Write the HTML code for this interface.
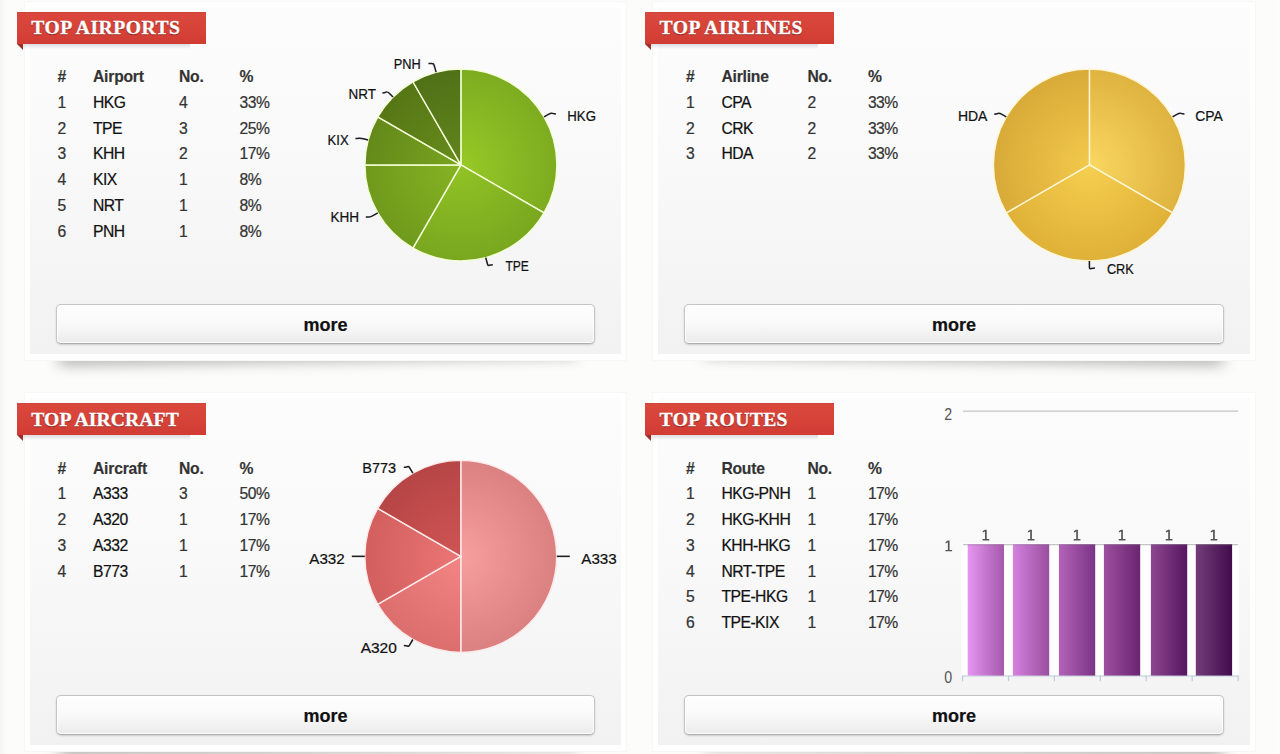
<!DOCTYPE html>
<html><head><meta charset="utf-8"><title>Top stats</title>
<style>
html,body{margin:0;padding:0}
body{width:1280px;height:754px;overflow:hidden;position:relative;background:#fcfcfb;font-family:"Liberation Sans",sans-serif;}
.strip{position:absolute;top:0;width:5px;height:754px}
.strip.a{left:0;background:linear-gradient(90deg,#f4f4f2,#fafaf9)}
.strip.b{right:0;background:#fdfdfc}
.panel{position:absolute;box-sizing:border-box;width:603.2px;height:360px;border:1px solid #f7f7f7;background:#fff}
.panel .inner{position:absolute;left:5px;top:5px;right:5px;bottom:6px;background:linear-gradient(180deg,#fcfcfc 0%,#fafafa 35%,#f2f2f2 100%)}
.lift{position:absolute;z-index:-1;width:518px;height:10px;box-shadow:0 12px 15px rgba(0,0,0,.44)}
.lift.l{left:59px;transform-origin:0 100%;transform:rotate(-.93deg)}
.lift.r{left:705px;transform-origin:100% 100%;transform:rotate(.93deg)}
.ribbon{position:absolute;width:189.2px;height:32.3px;background:linear-gradient(180deg,#c9443b 0,#da473d 1.5px,#d64238 60%,#d03b33 100%)}
.ribbon span{position:absolute;left:14.3px;top:4.6px;white-space:nowrap;font-family:"Liberation Serif",serif;font-weight:bold;font-size:19.6px;line-height:24px;color:#fff;letter-spacing:.5px;-webkit-text-stroke:.35px #fff;text-shadow:0 1px 1px rgba(100,15,10,.85)}
.fold{position:absolute;width:0;height:0;border-style:solid;border-width:0 6.5px 6px 0;border-color:transparent #9f2e28 transparent transparent}
.rshadow{position:absolute;width:167px;height:5px;background:linear-gradient(180deg,rgba(20,30,60,.14),rgba(20,30,60,0))}
.tbl{position:absolute;width:280px;font-size:15.7px;letter-spacing:-.5px;color:#333;-webkit-text-stroke:.22px #333}
.tr{position:relative;height:25.75px;line-height:26px}
.tr i{position:absolute;top:0;font-style:normal;white-space:nowrap}
.th{font-weight:bold;color:#333;letter-spacing:-.22px;-webkit-text-stroke:.15px #333}
.c1{left:33.5px}.c2{left:69px;color:#111;-webkit-text-stroke-color:#111}.th .c2{color:#333;-webkit-text-stroke-color:#333}.c3{left:155px}.c4{left:215.5px}
.btn{position:absolute;box-sizing:border-box;width:539.6px;height:40px;border:1px solid #c4c4c4;border-bottom-color:#adadad;border-radius:5px;background:linear-gradient(180deg,#fefefe 0%,#f9f9f9 50%,#ebebeb 100%);box-shadow:0 1px 2px rgba(0,0,0,.16),inset 0 0 0 1px rgba(255,255,255,.9);text-align:center;font-weight:bold;font-size:18px;line-height:40.6px;color:#111;-webkit-text-stroke:.2px #111}
svg{position:absolute;left:0;top:0}
.pl text{font-family:"Liberation Sans",sans-serif;font-size:14.4px;fill:#111;stroke:#111;stroke-width:.22px}
text.ax{font-family:"Liberation Sans",sans-serif;font-size:15.8px;fill:#555}
</style></head><body>
<div class="strip a"></div><div class="strip b"></div>
<div class="panel" style="left:24px;top:1px"><div class="inner"></div></div>
<div class="rshadow" style="left:23px;top:44px"></div>
<div class="fold" style="left:17px;top:43.8px"></div>
<div class="ribbon" style="left:16.9px;top:11.7px"><span style="letter-spacing:0.5px">TOP AIRPORTS</span></div>
<div class="tbl" style="left:24px;top:64.2px"><div class="tr th"><i class="c1">#</i><i class="c2">Airport</i><i class="c3">No.</i><i class="c4">%</i></div><div class="tr"><i class="c1">1</i><i class="c2">HKG</i><i class="c3">4</i><i class="c4">33%</i></div><div class="tr"><i class="c1">2</i><i class="c2">TPE</i><i class="c3">3</i><i class="c4">25%</i></div><div class="tr"><i class="c1">3</i><i class="c2">KHH</i><i class="c3">2</i><i class="c4">17%</i></div><div class="tr"><i class="c1">4</i><i class="c2">KIX</i><i class="c3">1</i><i class="c4">8%</i></div><div class="tr"><i class="c1">5</i><i class="c2">NRT</i><i class="c3">1</i><i class="c4">8%</i></div><div class="tr"><i class="c1">6</i><i class="c2">PNH</i><i class="c3">1</i><i class="c4">8%</i></div></div>
<div class="btn" style="left:55.75px;top:304.25px">more</div>
<div class="panel" style="left:652.4px;top:1px"><div class="inner"></div></div>
<div class="rshadow" style="left:651.4px;top:44px"></div>
<div class="fold" style="left:645.4px;top:43.8px"></div>
<div class="ribbon" style="left:645.3px;top:11.7px"><span style="letter-spacing:0.5px">TOP AIRLINES</span></div>
<div class="tbl" style="left:652.4px;top:64.2px"><div class="tr th"><i class="c1">#</i><i class="c2">Airline</i><i class="c3">No.</i><i class="c4">%</i></div><div class="tr"><i class="c1">1</i><i class="c2">CPA</i><i class="c3">2</i><i class="c4">33%</i></div><div class="tr"><i class="c1">2</i><i class="c2">CRK</i><i class="c3">2</i><i class="c4">33%</i></div><div class="tr"><i class="c1">3</i><i class="c2">HDA</i><i class="c3">2</i><i class="c4">33%</i></div></div>
<div class="btn" style="left:684.15px;top:304.25px">more</div>
<div class="panel" style="left:24px;top:392.3px"><div class="inner"></div></div>
<div class="rshadow" style="left:23px;top:435.3px"></div>
<div class="fold" style="left:17px;top:435.1px"></div>
<div class="ribbon" style="left:16.9px;top:403px"><span style="letter-spacing:0.14px">TOP AIRCRAFT</span></div>
<div class="tbl" style="left:24px;top:455.5px"><div class="tr th"><i class="c1">#</i><i class="c2">Aircraft</i><i class="c3">No.</i><i class="c4">%</i></div><div class="tr"><i class="c1">1</i><i class="c2">A333</i><i class="c3">3</i><i class="c4">50%</i></div><div class="tr"><i class="c1">2</i><i class="c2">A320</i><i class="c3">1</i><i class="c4">17%</i></div><div class="tr"><i class="c1">3</i><i class="c2">A332</i><i class="c3">1</i><i class="c4">17%</i></div><div class="tr"><i class="c1">4</i><i class="c2">B773</i><i class="c3">1</i><i class="c4">17%</i></div></div>
<div class="btn" style="left:55.75px;top:695.25px">more</div>
<div class="panel" style="left:652.4px;top:392.3px"><div class="inner"></div></div>
<div class="rshadow" style="left:651.4px;top:435.3px"></div>
<div class="fold" style="left:645.4px;top:435.1px"></div>
<div class="ribbon" style="left:645.3px;top:403px"><span style="letter-spacing:0.4px">TOP ROUTES</span></div>
<div class="tbl" style="left:652.4px;top:455.5px"><div class="tr th"><i class="c1">#</i><i class="c2">Route</i><i class="c3">No.</i><i class="c4">%</i></div><div class="tr"><i class="c1">1</i><i class="c2">HKG-PNH</i><i class="c3">1</i><i class="c4">17%</i></div><div class="tr"><i class="c1">2</i><i class="c2">HKG-KHH</i><i class="c3">1</i><i class="c4">17%</i></div><div class="tr"><i class="c1">3</i><i class="c2">KHH-HKG</i><i class="c3">1</i><i class="c4">17%</i></div><div class="tr"><i class="c1">4</i><i class="c2">NRT-TPE</i><i class="c3">1</i><i class="c4">17%</i></div><div class="tr"><i class="c1">5</i><i class="c2">TPE-HKG</i><i class="c3">1</i><i class="c4">17%</i></div><div class="tr"><i class="c1">6</i><i class="c2">TPE-KIX</i><i class="c3">1</i><i class="c4">17%</i></div></div>
<div class="btn" style="left:684.15px;top:695.25px">more</div>
<div class="lift l" style="top:341.3px"></div><div class="lift r" style="top:341.3px"></div>
<div class="lift l" style="top:732.6px"></div><div class="lift r" style="top:732.6px"></div>
<svg width="1280" height="754" viewBox="0 0 1280 754"><defs><radialGradient id="p1_g0" gradientUnits="userSpaceOnUse" cx="460.9" cy="164.9" r="97.92"><stop offset="0" stop-color="#97c926"/><stop offset="1" stop-color="#7cab20"/></radialGradient><radialGradient id="p1_g1" gradientUnits="userSpaceOnUse" cx="460.9" cy="164.9" r="97.92"><stop offset="0" stop-color="#92c325"/><stop offset="1" stop-color="#78a61f"/></radialGradient><radialGradient id="p1_g2" gradientUnits="userSpaceOnUse" cx="460.9" cy="164.9" r="97.92"><stop offset="0" stop-color="#86b422"/><stop offset="1" stop-color="#6e991c"/></radialGradient><radialGradient id="p1_g3" gradientUnits="userSpaceOnUse" cx="460.9" cy="164.9" r="97.92"><stop offset="0" stop-color="#79a41f"/><stop offset="1" stop-color="#63891a"/></radialGradient><radialGradient id="p1_g4" gradientUnits="userSpaceOnUse" cx="460.9" cy="164.9" r="97.92"><stop offset="0" stop-color="#678c1b"/><stop offset="1" stop-color="#567616"/></radialGradient><radialGradient id="p1_g5" gradientUnits="userSpaceOnUse" cx="460.9" cy="164.9" r="97.92"><stop offset="0" stop-color="#61851b"/><stop offset="1" stop-color="#507017"/></radialGradient><radialGradient id="p2_g0" gradientUnits="userSpaceOnUse" cx="1089.4" cy="164.9" r="97.92"><stop offset="0" stop-color="#f9d760"/><stop offset="1" stop-color="#deb23e"/></radialGradient><radialGradient id="p2_g1" gradientUnits="userSpaceOnUse" cx="1089.4" cy="164.9" r="97.92"><stop offset="0" stop-color="#f6cf50"/><stop offset="1" stop-color="#dfb037"/></radialGradient><radialGradient id="p2_g2" gradientUnits="userSpaceOnUse" cx="1089.4" cy="164.9" r="97.92"><stop offset="0" stop-color="#f2c94b"/><stop offset="1" stop-color="#d8a938"/></radialGradient><radialGradient id="p3_g0" gradientUnits="userSpaceOnUse" cx="460.8" cy="556.35" r="97.92"><stop offset="0" stop-color="#f79e9e"/><stop offset="1" stop-color="#db8080"/></radialGradient><radialGradient id="p3_g1" gradientUnits="userSpaceOnUse" cx="460.8" cy="556.35" r="97.92"><stop offset="0" stop-color="#f38585"/><stop offset="1" stop-color="#dc6d6d"/></radialGradient><radialGradient id="p3_g2" gradientUnits="userSpaceOnUse" cx="460.8" cy="556.35" r="97.92"><stop offset="0" stop-color="#ec7676"/><stop offset="1" stop-color="#d25e5e"/></radialGradient><radialGradient id="p3_g3" gradientUnits="userSpaceOnUse" cx="460.8" cy="556.35" r="97.92"><stop offset="0" stop-color="#d05454"/><stop offset="1" stop-color="#b64545"/></radialGradient><linearGradient id="b_g0" x1="0" y1="0" x2="1" y2="0"><stop offset="0" stop-color="#e596f0"/><stop offset="1" stop-color="#a558ab"/></linearGradient><linearGradient id="b_g1" x1="0" y1="0" x2="1" y2="0"><stop offset="0" stop-color="#d482de"/><stop offset="1" stop-color="#9a4e9f"/></linearGradient><linearGradient id="b_g2" x1="0" y1="0" x2="1" y2="0"><stop offset="0" stop-color="#b362b8"/><stop offset="1" stop-color="#7a3485"/></linearGradient><linearGradient id="b_g3" x1="0" y1="0" x2="1" y2="0"><stop offset="0" stop-color="#9c509f"/><stop offset="1" stop-color="#6a2472"/></linearGradient><linearGradient id="b_g4" x1="0" y1="0" x2="1" y2="0"><stop offset="0" stop-color="#8c478f"/><stop offset="1" stop-color="#561562"/></linearGradient><linearGradient id="b_g5" x1="0" y1="0" x2="1" y2="0"><stop offset="0" stop-color="#733c79"/><stop offset="1" stop-color="#410c4d"/></linearGradient></defs>
<g class="pl"><path d="M460.9 164.9L460.9 68.9A96 96 0 0 1 544.04 212.9Z" fill="url(#p1_g0)" stroke="#f4ffd8" stroke-width="1.45" stroke-linejoin="round"/><path d="M460.9 164.9L544.04 212.9A96 96 0 0 1 412.9 248.04Z" fill="url(#p1_g1)" stroke="#f4ffd8" stroke-width="1.45" stroke-linejoin="round"/><path d="M460.9 164.9L412.9 248.04A96 96 0 0 1 364.9 164.9Z" fill="url(#p1_g2)" stroke="#f4ffd8" stroke-width="1.45" stroke-linejoin="round"/><path d="M460.9 164.9L364.9 164.9A96 96 0 0 1 377.76 116.9Z" fill="url(#p1_g3)" stroke="#f4ffd8" stroke-width="1.45" stroke-linejoin="round"/><path d="M460.9 164.9L377.76 116.9A96 96 0 0 1 412.9 81.76Z" fill="url(#p1_g4)" stroke="#f4ffd8" stroke-width="1.45" stroke-linejoin="round"/><path d="M460.9 164.9L412.9 81.76A96 96 0 0 1 460.9 68.9Z" fill="url(#p1_g5)" stroke="#f4ffd8" stroke-width="1.45" stroke-linejoin="round"/><path d="M555.97 113.9C550.97 113.9 552.7 111.9 548.37 114.4L544.04 116.9" fill="none" stroke="#1c1c22" stroke-width="1.55" stroke-linecap="butt"/><text x="567.3" y="120.9" textLength="28.7" lengthAdjust="spacingAndGlyphs">HKG</text><path d="M492.82 264.76C487.82 264.76 488.33 267.29 487.04 262.46L485.75 257.63" fill="none" stroke="#1c1c22" stroke-width="1.55" stroke-linecap="butt"/><text x="505.4" y="271" textLength="23.4" lengthAdjust="spacingAndGlyphs">TPE</text><path d="M365.83 216.9C370.83 216.9 369.1 217.9 373.43 215.4L377.76 212.9" fill="none" stroke="#1c1c22" stroke-width="1.55" stroke-linecap="butt"/><text x="330.4" y="222" textLength="28.6" lengthAdjust="spacingAndGlyphs">KHH</text><path d="M355.44 138.58C360.44 138.58 358.51 137.47 363.34 138.76L368.17 140.05" fill="none" stroke="#1c1c22" stroke-width="1.55" stroke-linecap="butt"/><text x="327.6" y="145.1" textLength="21.1" lengthAdjust="spacingAndGlyphs">KIX</text><path d="M382.36 93.06C387.36 93.06 385.95 89.95 389.48 93.48L393.02 97.02" fill="none" stroke="#1c1c22" stroke-width="1.55" stroke-linecap="butt"/><text x="348.5" y="98.6" textLength="27.4" lengthAdjust="spacingAndGlyphs">NRT</text><path d="M428.48 63.54C433.48 63.54 433.47 62.51 434.76 67.34L436.05 72.17" fill="none" stroke="#1c1c22" stroke-width="1.55" stroke-linecap="butt"/><text x="393.7" y="69.4" textLength="27" lengthAdjust="spacingAndGlyphs">PNH</text></g>
<g class="pl"><path d="M1089.4 164.9L1089.4 68.9A96 96 0 0 1 1172.54 212.9Z" fill="url(#p2_g0)" stroke="#fff6d6" stroke-width="1.45" stroke-linejoin="round"/><path d="M1089.4 164.9L1172.54 212.9A96 96 0 0 1 1006.26 212.9Z" fill="url(#p2_g1)" stroke="#fff6d6" stroke-width="1.45" stroke-linejoin="round"/><path d="M1089.4 164.9L1006.26 212.9A96 96 0 0 1 1089.4 68.9Z" fill="url(#p2_g2)" stroke="#fff6d6" stroke-width="1.45" stroke-linejoin="round"/><path d="M1184.47 113.9C1179.47 113.9 1181.2 111.9 1176.87 114.4L1172.54 116.9" fill="none" stroke="#1c1c22" stroke-width="1.55" stroke-linecap="butt"/><text x="1195.3" y="121" textLength="27.5" lengthAdjust="spacingAndGlyphs">CPA</text><path d="M1095 268C1090 268 1089.4 270.9 1089.4 265.9L1089.4 260.9" fill="none" stroke="#1c1c22" stroke-width="1.55" stroke-linecap="butt"/><text x="1106.9" y="273.7" textLength="26.9" lengthAdjust="spacingAndGlyphs">CRK</text><path d="M994.33 114.1C999.33 114.1 997.6 111.9 1001.93 114.4L1006.26 116.9" fill="none" stroke="#1c1c22" stroke-width="1.55" stroke-linecap="butt"/><text x="957.9" y="120.8" textLength="29.5" lengthAdjust="spacingAndGlyphs">HDA</text></g>
<g class="pl"><path d="M460.8 556.35L460.8 460.35A96 96 0 0 1 460.8 652.35Z" fill="url(#p3_g0)" stroke="#ffe9e9" stroke-width="1.45" stroke-linejoin="round"/><path d="M460.8 556.35L460.8 652.35A96 96 0 0 1 377.66 604.35Z" fill="url(#p3_g1)" stroke="#ffe9e9" stroke-width="1.45" stroke-linejoin="round"/><path d="M460.8 556.35L377.66 604.35A96 96 0 0 1 377.66 508.35Z" fill="url(#p3_g2)" stroke="#ffe9e9" stroke-width="1.45" stroke-linejoin="round"/><path d="M460.8 556.35L377.66 508.35A96 96 0 0 1 460.8 460.35Z" fill="url(#p3_g3)" stroke="#ffe9e9" stroke-width="1.45" stroke-linejoin="round"/><path d="M569.8 556.35C564.8 556.35 566.8 556.35 561.8 556.35L556.8 556.35" fill="none" stroke="#1c1c22" stroke-width="1.55" stroke-linecap="butt"/><text x="581.3" y="563.5" textLength="35.4" lengthAdjust="spacingAndGlyphs">A333</text><path d="M403.8 645.42C408.8 645.42 407.8 648.15 410.3 643.82L412.8 639.49" fill="none" stroke="#1c1c22" stroke-width="1.55" stroke-linecap="butt"/><text x="360.7" y="652.9" textLength="36.1" lengthAdjust="spacingAndGlyphs">A320</text><path d="M351.8 556.35C356.8 556.35 354.8 556.35 359.8 556.35L364.8 556.35" fill="none" stroke="#1c1c22" stroke-width="1.55" stroke-linecap="butt"/><text x="309.3" y="563.5" textLength="35.4" lengthAdjust="spacingAndGlyphs">A332</text><path d="M403.8 467.28C408.8 467.28 407.8 464.55 410.3 468.88L412.8 473.21" fill="none" stroke="#1c1c22" stroke-width="1.55" stroke-linecap="butt"/><text x="362.3" y="473.4" textLength="33.8" lengthAdjust="spacingAndGlyphs">B773</text></g>
<g><rect x="961.6" y="543.4" width="277" height="132.2" fill="#fff"/><path d="M963 411.2H1238.1" stroke="#c4c4c4" stroke-width="1.3" fill="none"/><path d="M963 544.6H1238.1" stroke="#c4c4c4" stroke-width="1.3" fill="none"/><path d="M962.6 676H1238.7" stroke="#bccbdc" stroke-width="1.2" fill="none"/><path d="M962.6 675.6V681.2" stroke="#bccbdc" stroke-width="1.2" fill="none"/><path d="M1008.52 675.6V681.2" stroke="#bccbdc" stroke-width="1.2" fill="none"/><path d="M1054.43 675.6V681.2" stroke="#bccbdc" stroke-width="1.2" fill="none"/><path d="M1100.35 675.6V681.2" stroke="#bccbdc" stroke-width="1.2" fill="none"/><path d="M1146.27 675.6V681.2" stroke="#bccbdc" stroke-width="1.2" fill="none"/><path d="M1192.18 675.6V681.2" stroke="#bccbdc" stroke-width="1.2" fill="none"/><path d="M1238.1 675.6V681.2" stroke="#bccbdc" stroke-width="1.2" fill="none"/><rect x="967.7" y="544.3" width="36.3" height="131.3" fill="url(#b_g0)"/><rect x="967.7" y="544.3" width="36.3" height="1.2" fill="#777" fill-opacity=".28"/><path d="M-.85 0H.85V9.3H3.4V10.6H-3.3V9.3H-.85V1.7L-3.1 2.8V1.3Z" transform="translate(985.85 529.8)" fill="#555"/><rect x="1012.9" y="544.3" width="36.3" height="131.3" fill="url(#b_g1)"/><rect x="1012.9" y="544.3" width="36.3" height="1.2" fill="#777" fill-opacity=".28"/><path d="M-.85 0H.85V9.3H3.4V10.6H-3.3V9.3H-.85V1.7L-3.1 2.8V1.3Z" transform="translate(1031.05 529.8)" fill="#555"/><rect x="1058.9" y="544.3" width="36.3" height="131.3" fill="url(#b_g2)"/><rect x="1058.9" y="544.3" width="36.3" height="1.2" fill="#777" fill-opacity=".28"/><path d="M-.85 0H.85V9.3H3.4V10.6H-3.3V9.3H-.85V1.7L-3.1 2.8V1.3Z" transform="translate(1077.05 529.8)" fill="#555"/><rect x="1103.9" y="544.3" width="36.3" height="131.3" fill="url(#b_g3)"/><rect x="1103.9" y="544.3" width="36.3" height="1.2" fill="#777" fill-opacity=".28"/><path d="M-.85 0H.85V9.3H3.4V10.6H-3.3V9.3H-.85V1.7L-3.1 2.8V1.3Z" transform="translate(1122.05 529.8)" fill="#555"/><rect x="1150.9" y="544.3" width="36.3" height="131.3" fill="url(#b_g4)"/><rect x="1150.9" y="544.3" width="36.3" height="1.2" fill="#777" fill-opacity=".28"/><path d="M-.85 0H.85V9.3H3.4V10.6H-3.3V9.3H-.85V1.7L-3.1 2.8V1.3Z" transform="translate(1169.05 529.8)" fill="#555"/><rect x="1195.8" y="544.3" width="36.3" height="131.3" fill="url(#b_g5)"/><rect x="1195.8" y="544.3" width="36.3" height="1.2" fill="#777" fill-opacity=".28"/><path d="M-.85 0H.85V9.3H3.4V10.6H-3.3V9.3H-.85V1.7L-3.1 2.8V1.3Z" transform="translate(1213.95 529.8)" fill="#555"/><text class="ax" x="944.3" y="419.8" textLength="7.9" lengthAdjust="spacingAndGlyphs">2</text><path d="M-.85 0H.85V9.3H3.4V10.6H-3.3V9.3H-.85V1.7L-3.1 2.8V1.3Z" transform="translate(948.7 540.6)" fill="#555"/><text class="ax" x="944.3" y="683.0" textLength="7.9" lengthAdjust="spacingAndGlyphs">0</text></g>
</svg>
</body></html>
